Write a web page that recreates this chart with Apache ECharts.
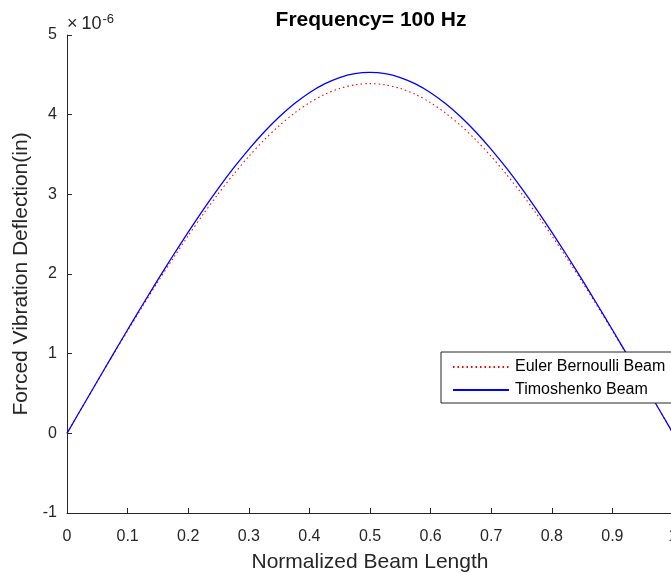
<!DOCTYPE html>
<html>
<head>
<meta charset="utf-8">
<script src="https://cdn.jsdelivr.net/npm/echarts@6/dist/echarts.min.js"></script>
<style>
html,body{margin:0;padding:0;background:#fff;}
#chart{width:671px;height:573px;}
</style>
</head>
<body>
<div id="chart"></div>
<script>
// Normalized beam positions
var positions = [0, 0.025, 0.05, 0.075, 0.1, 0.125, 0.15, 0.175, 0.2, 0.225, 0.25, 0.275, 0.3, 0.325, 0.35, 0.375, 0.4, 0.425, 0.45, 0.475, 0.5,
                 0.525, 0.55, 0.575, 0.6, 0.625, 0.65, 0.675, 0.7, 0.725, 0.75, 0.775, 0.8, 0.825, 0.85, 0.875, 0.9, 0.925, 0.95, 0.975, 1.0];
// Deflection values in units of 1e-6 in
var eulerBernoulli = [0, 0.327, 0.651, 0.972, 1.288, 1.598, 1.902, 2.196, 2.480, 2.752, 3.011, 3.252, 3.476, 3.680, 3.861, 4.018, 4.150, 4.254, 4.329, 4.374, 4.390,
                      4.374, 4.329, 4.254, 4.150, 4.018, 3.861, 3.680, 3.476, 3.252, 3.011, 2.752, 2.480, 2.196, 1.902, 1.598, 1.288, 0.972, 0.651, 0.327, 0];
var timoshenko = [0, 0.328, 0.654, 0.979, 1.300, 1.617, 1.929, 2.232, 2.526, 2.809, 3.078, 3.331, 3.565, 3.780, 3.971, 4.137, 4.276, 4.386, 4.466, 4.514, 4.530,
                  4.514, 4.466, 4.386, 4.276, 4.137, 3.971, 3.780, 3.565, 3.331, 3.078, 2.809, 2.526, 2.232, 1.929, 1.617, 1.300, 0.979, 0.654, 0.328, 0];
var seriesNames = ['Euler Bernoulli Beam', 'Timoshenko Beam'];
var titleText = 'Frequency= 100 Hz';
var xAxisTitle = 'Normalized Beam Length';
var yAxisTitle = 'Forced Vibration Deflection(in)';

var FONT = '"Liberation Sans", Arial, Helvetica, sans-serif';
var AX = '#262626';

function pairs(xs, ys) { return xs.map(function (x, i) { return [x, ys[i]]; }); }

var chart = echarts.init(document.getElementById('chart'), null, {renderer: 'canvas'});
chart.setOption({
  animation: false,
  backgroundColor: '#ffffff',
  textStyle: {fontFamily: FONT},
  title: {
    text: titleText,
    left: 366,
    top: 5,
    textAlign: 'center',
    textStyle: {fontFamily: FONT, fontSize: 21, fontWeight: 'bold', color: '#000'}
  },
  graphic: [{
    type: 'text',
    left: 67,
    top: 13,
    style: {
      text: '{a|\u00d7}{c|10}{b|-6}',
      rich: {
        a: {fontFamily: FONT, fontSize: 18, fill: AX, color: AX, padding: [0, 4, 0, 0]},
        c: {fontFamily: FONT, fontSize: 18, fill: AX, color: AX},
        b: {fontFamily: FONT, fontSize: 13, fill: AX, color: AX, verticalAlign: 'top', padding: [0, 0, 9, 1]}
      }
    }
  }],
  legend: {
    orient: 'vertical',
    left: 441,
    top: 352,
    padding: [7, 10, 5, 11],
    itemWidth: 56,
    itemHeight: 16,
    itemGap: 7,
    backgroundColor: '#ffffff',
    borderColor: AX,
    borderWidth: 1,
    borderRadius: 0,
    itemStyle: {opacity: 0},
    textStyle: {fontFamily: FONT, fontSize: 16, color: '#000', padding: [0, 0, 0, 1]},
    data: seriesNames
  },
  grid: {left: 67, top: 35, width: 606, height: 478, containLabel: false, outerBoundsMode: 'none'},
  xAxis: {
    type: 'value',
    min: 0, max: 1, interval: 0.1,
    name: xAxisTitle,
    nameLocation: 'middle',
    nameGap: 39,
    nameTextStyle: {fontFamily: FONT, fontSize: 21, color: AX},
    axisLine: {show: true, onZero: false, lineStyle: {color: AX, width: 1}},
    axisTick: {show: true, inside: true, length: 5, lineStyle: {color: AX}},
    axisLabel: {
      fontFamily: FONT, fontSize: 16, color: AX, margin: 16,
      formatter: function (v) { return String(Number(v.toFixed(2))); }
    },
    splitLine: {show: false}
  },
  yAxis: {
    type: 'value',
    min: -1, max: 5, interval: 1,
    name: yAxisTitle,
    nameLocation: 'middle',
    nameGap: 27,
    nameTextStyle: {fontFamily: FONT, fontSize: 21, color: AX},
    axisLine: {show: true, onZero: false, lineStyle: {color: AX, width: 1}},
    axisTick: {show: true, inside: true, length: 5, lineStyle: {color: AX}},
    axisLabel: {fontFamily: FONT, fontSize: 16, color: AX, margin: 10},
    splitLine: {show: false}
  },
  series: [
    {
      name: seriesNames[0],
      type: 'line',
      data: pairs(positions, eulerBernoulli),
      smooth: 0.3,
      symbol: 'none',
      clip: false,
      lineStyle: {color: '#ff0000', width: 1.1, type: [1.5, 3]},
      itemStyle: {color: '#ff0000'},
      z: 2
    },
    {
      name: seriesNames[1],
      type: 'line',
      data: pairs(positions, timoshenko),
      smooth: 0.3,
      symbol: 'none',
      clip: false,
      lineStyle: {color: '#0000ff', width: 1.3, type: 'solid'},
      itemStyle: {color: '#0000ff'},
      z: 3
    }
  ]
});
</script>
</body>
</html>
